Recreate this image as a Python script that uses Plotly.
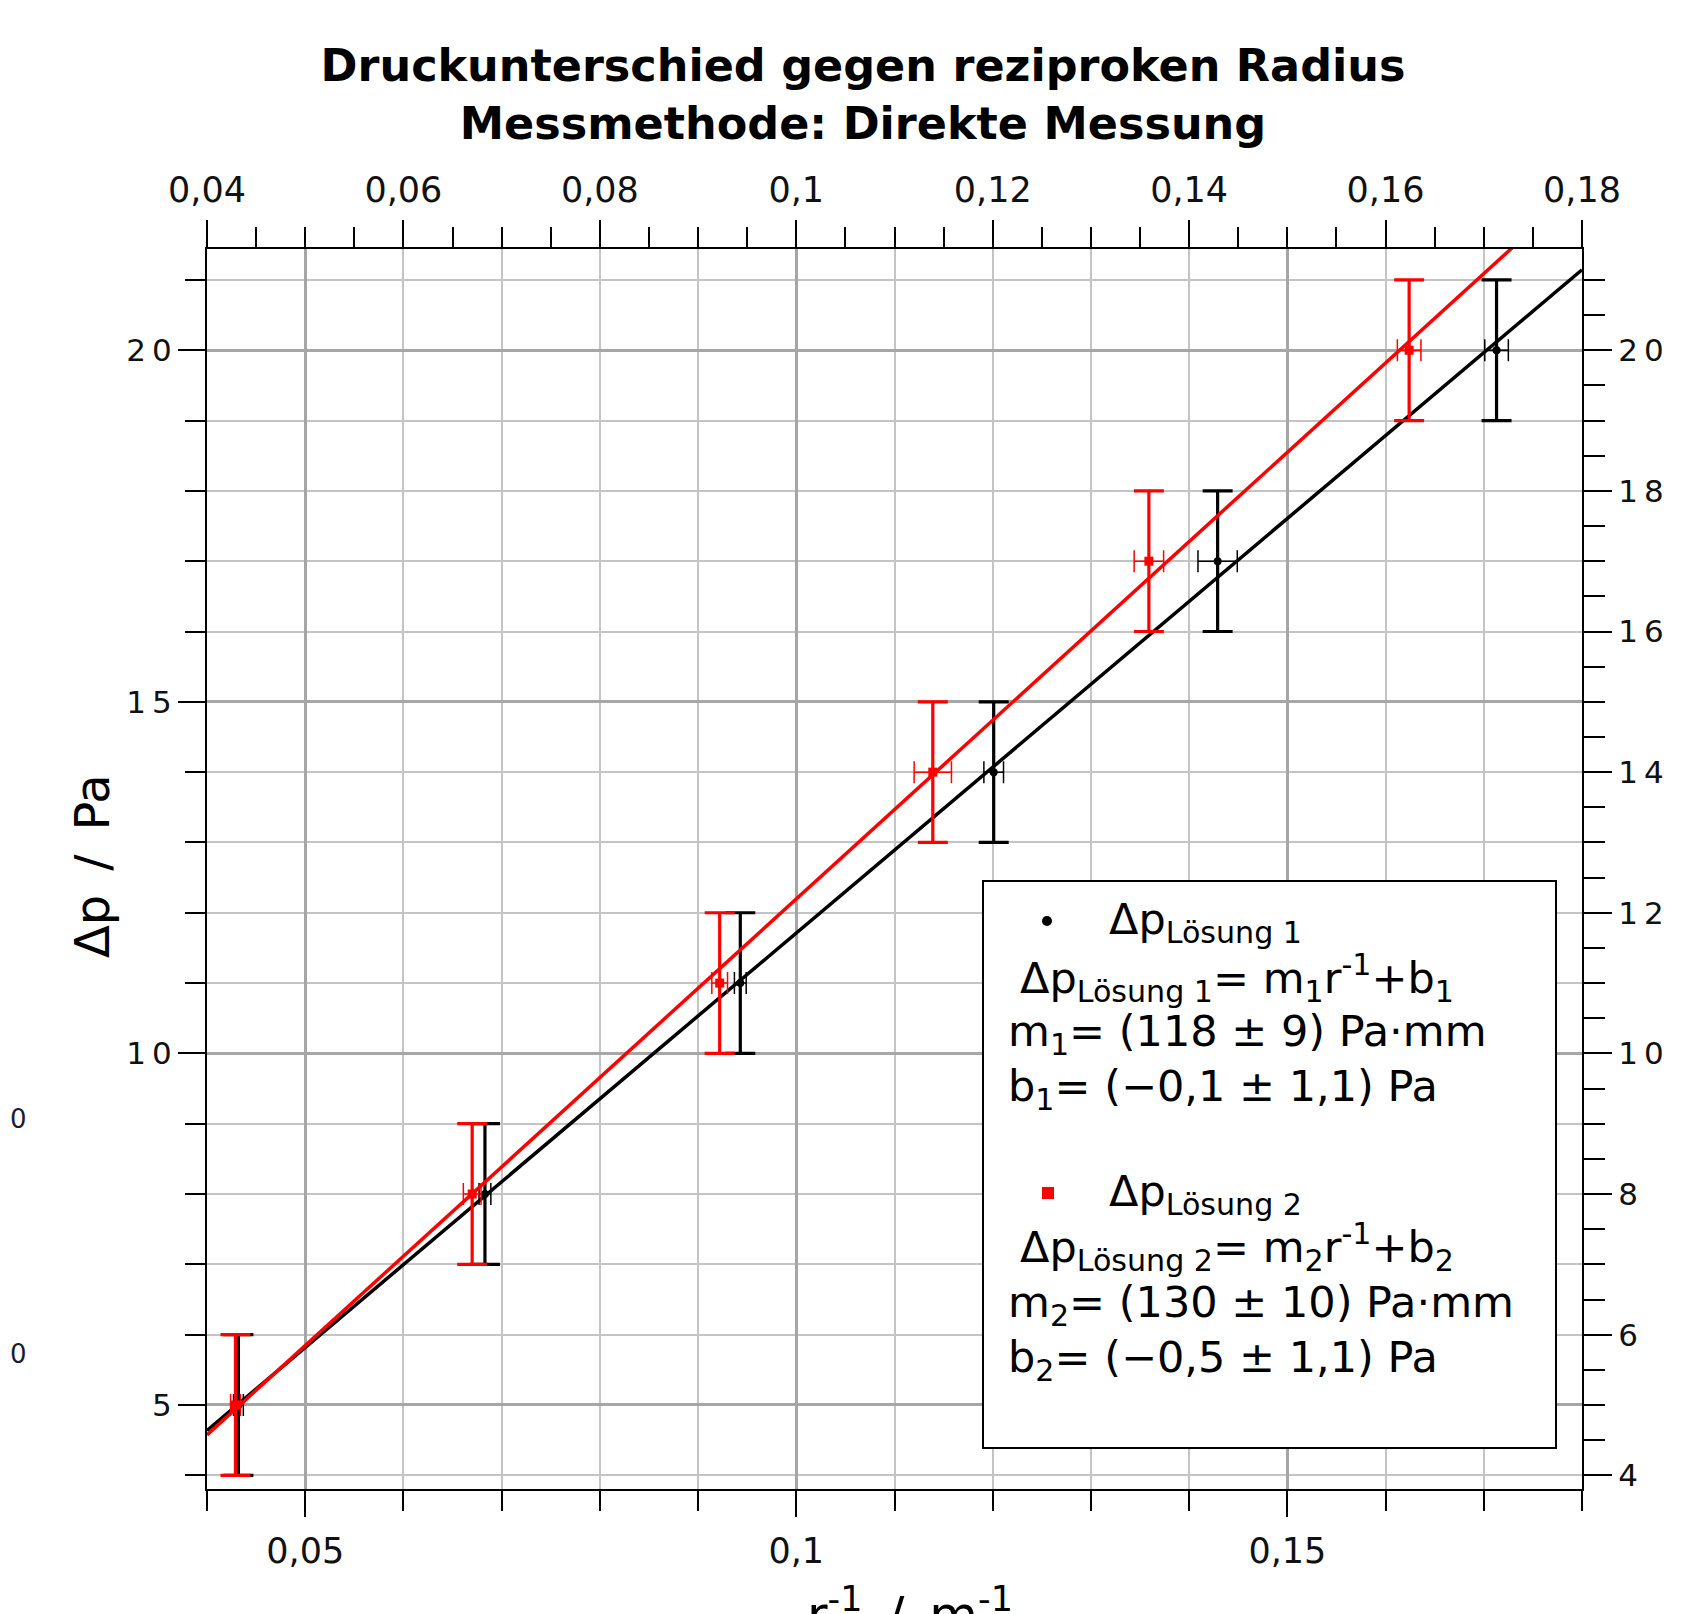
import numpy as np
import plotly.graph_objects as go

# ---------------- data ----------------
y_vals = [5, 8, 11, 14, 17, 20]
y_err = [1, 1, 1, 1, 1, 1]

x_loes1 = [0.0432, 0.0683, 0.0943, 0.1201, 0.1429, 0.1713]
xerr_loes1 = [0.0005, 0.0006, 0.0006, 0.0010, 0.0020, 0.0012]

x_loes2 = [0.0429, 0.0670, 0.0922, 0.1139, 0.1359, 0.1624]
xerr_loes2 = [0.0005, 0.0009, 0.0008, 0.0019, 0.0015, 0.0012]

x_range = [0.04, 0.18]
y_range = [3.805, 21.44]

TS = "\u2009"  # thin space, mimics the wide letter spacing of the original labels
bottom_tickvals = [0.05, 0.10, 0.15]
bottom_ticktext = ["0,05", "0,1", "0,15"]
top_tickvals = [0.04, 0.06, 0.08, 0.10, 0.12, 0.14, 0.16, 0.18]
top_ticktext = ["0,04", "0,06", "0,08", "0,1", "0,12", "0,14", "0,16", "0,18"]
left_tickvals = [5, 10, 15, 20]
left_ticktext = ["5", "1" + TS + "0", "1" + TS + "5", "2" + TS + "0"]
right_tickvals = [4, 6, 8, 10, 12, 14, 16, 18, 20]
right_ticktext = ["4", "6", "8", "1" + TS + "0", "1" + TS + "2", "1" + TS + "4",
                  "1" + TS + "6", "1" + TS + "8", "2" + TS + "0"]

legend_lines_1 = [
    "Δp<sub>Lösung 1</sub>",
    "Δp<sub>Lösung 1</sub>= m<sub>1</sub>r<sup>-1</sup>+b<sub>1</sub>",
    "m<sub>1</sub>= (118 ± 9) Pa·mm",
    "b<sub>1</sub>= (−0,1 ± 1,1) Pa",
]
legend_lines_2 = [
    "Δp<sub>Lösung 2</sub>",
    "Δp<sub>Lösung 2</sub>= m<sub>2</sub>r<sup>-1</sup>+b<sub>2</sub>",
    "m<sub>2</sub>= (130 ± 10) Pa·mm",
    "b<sub>2</sub>= (−0,5 ± 1,1) Pa",
]

# ---------------- layout geometry (page pixels) ----------------
OFF = 8  # default body margin of the html page
W, H = 1698 - OFF, 1614 - OFF
L, R, T, B = 207, 1582, 249, 1489          # plot area in page pixels
PW, PH = R - L, B - T

def px(xp):
    return (xp - L) / PW

def py(yp):
    return (B - yp) / PH

FONT = "DejaVu Sans"
RED = "#ff0000"
BLACK = "#000000"

# linear fits from the data
m1, b1 = np.polyfit(x_loes1, y_vals, 1)
m2, b2 = np.polyfit(x_loes2, y_vals, 1)
fit_x = np.array(x_range)

fig = go.Figure()

fig.add_trace(go.Scatter(x=fit_x, y=m1 * fit_x + b1, mode="lines",
                         line=dict(color=BLACK, width=3.5), showlegend=False, hoverinfo="skip"))
fig.add_trace(go.Scatter(
    x=x_loes1, y=y_vals, mode="markers",
    marker=dict(symbol="circle", size=8, color=BLACK),
    error_y=dict(type="data", array=y_err, color=BLACK, thickness=3.2, width=15),
    error_x=dict(type="data", array=xerr_loes1, color=BLACK, thickness=1.5, width=11),
    showlegend=False))
fig.add_trace(go.Scatter(x=fit_x, y=m2 * fit_x + b2, mode="lines",
                         line=dict(color=RED, width=3.5), showlegend=False, hoverinfo="skip"))
fig.add_trace(go.Scatter(
    x=x_loes2, y=y_vals, mode="markers",
    marker=dict(symbol="square", size=9, color=RED),
    error_y=dict(type="data", array=y_err, color=RED, thickness=3.2, width=15),
    error_x=dict(type="data", array=xerr_loes2, color=RED, thickness=1.5, width=11),
    showlegend=False))
# invisible trace to activate the top / right axes
fig.add_trace(go.Scatter(x=[None], y=[None], xaxis="x2", yaxis="y2",
                         showlegend=False, hoverinfo="skip"))

tickfont_x = dict(family=FONT, size=35, color="#111111")
tickfont_y = dict(family=FONT, size=31, color="#111111")

fig.update_layout(
    width=W, height=H,
    margin=dict(l=L - OFF, r=W - (R - OFF), t=T - OFF, b=H - (B - OFF), pad=0),
    paper_bgcolor="white", plot_bgcolor="white",
    font=dict(family=FONT, color=BLACK),
    title=dict(
        text="Druckunterschied gegen reziproken Radius<br>Messmethode: Direkte Messung",
        font=dict(family=FONT, size=44.5, color=BLACK, weight="bold"),
        x=(863 - OFF) / W, xanchor="center", xref="container",
        y=1 - 73 / H, yanchor="middle", yref="container",
    ),
    xaxis=dict(
        range=x_range, tickmode="array", tickvals=bottom_tickvals, ticktext=bottom_ticktext,
        ticks="outside", ticklen=26, tickwidth=2, tickcolor=BLACK, ticklabelstandoff=4,
        showline=True, linecolor=BLACK, linewidth=2,
        showgrid=True, gridcolor="#a6a6a6", gridwidth=3, zeroline=False,
        tickfont=tickfont_x,
        minor=dict(tickmode="linear", tick0=0, dtick=0.01, ticks="outside", ticklen=20,
                   tickwidth=2, tickcolor=BLACK, showgrid=True, gridcolor="#c4c4c4", gridwidth=2),
    ),
    xaxis2=dict(
        range=x_range, overlaying="x", side="top", anchor="y",
        tickmode="array", tickvals=top_tickvals, ticktext=top_ticktext,
        ticks="outside", ticklen=27, tickwidth=2, tickcolor=BLACK, ticklabelstandoff=4,
        showline=True, linecolor=BLACK, linewidth=2,
        showgrid=False, zeroline=False, tickfont=tickfont_x,
        minor=dict(tickmode="linear", tick0=0, dtick=0.005, ticks="outside", ticklen=20,
                   tickwidth=2, tickcolor=BLACK, showgrid=False),
    ),
    yaxis=dict(
        range=y_range, tickmode="array", tickvals=left_tickvals, ticktext=left_ticktext,
        ticks="outside", ticklen=27, tickwidth=2, tickcolor=BLACK,
        showline=True, linecolor=BLACK, linewidth=2,
        showgrid=True, gridcolor="#a6a6a6", gridwidth=3, zeroline=False,
        tickfont=tickfont_y,
        minor=dict(tickmode="linear", tick0=0, dtick=1, ticks="outside", ticklen=20,
                   tickwidth=2, tickcolor=BLACK, showgrid=True, gridcolor="#c4c4c4", gridwidth=2),
    ),
    yaxis2=dict(
        range=y_range, overlaying="y", side="right", anchor="x",
        tickmode="array", tickvals=right_tickvals, ticktext=right_ticktext,
        ticks="outside", ticklen=28, tickwidth=2, tickcolor=BLACK,
        showline=True, linecolor=BLACK, linewidth=2,
        showgrid=False, zeroline=False, tickfont=tickfont_y,
        minor=dict(tickmode="linear", tick0=0, dtick=0.5, ticks="outside", ticklen=21,
                   tickwidth=2, tickcolor=BLACK, showgrid=False),
    ),
)

shapes = [
    dict(type="rect", xref="paper", yref="paper",
         x0=px(983), x1=px(1556), y0=py(1448), y1=py(881),
         fillcolor="white", line=dict(color=BLACK, width=2), layer="above"),
    dict(type="circle", xref="paper", yref="paper",
         x0=px(1042), x1=px(1052), y0=py(926), y1=py(916),
         fillcolor=BLACK, line=dict(width=0), layer="above"),
    dict(type="rect", xref="paper", yref="paper",
         x0=px(1042), x1=px(1054), y0=py(1199), y1=py(1187),
         fillcolor=RED, line=dict(width=0), layer="above"),
]
fig.update_layout(shapes=shapes)

annotations = []
leg_x = [1107, 1018, 1006, 1006]
leg_y1 = [922, 978, 1034, 1089]
leg_y2 = [1194, 1247, 1305, 1360]
for lines, ys in ((legend_lines_1, leg_y1), (legend_lines_2, leg_y2)):
    for text, xl, yc in zip(lines, leg_x, ys):
        annotations.append(dict(
            text=text, xref="paper", yref="paper", x=px(xl), y=py(yc),
            xanchor="left", yanchor="middle", showarrow=False,
            font=dict(family=FONT, size=43, color=BLACK)))

# axis titles
annotations.append(dict(
    text="Δp\u2002/\u2002Pa", xref="paper", yref="paper", x=px(92), y=py(866),
    xanchor="center", yanchor="middle", textangle=-90, showarrow=False,
    font=dict(family=FONT, size=48, color=BLACK)))
annotations.append(dict(
    text="r<sup>-1</sup>\u2002/\u2002m<sup>-1</sup>", xref="paper", yref="paper",
    x=px(910), y=py(1577),
    xanchor="center", yanchor="top", showarrow=False,
    font=dict(family=FONT, size=50, color=BLACK)))
# stray digits at the left edge of the picture
for yy in (1119, 1354):
    annotations.append(dict(
        text="0", xref="paper", yref="paper", x=px(OFF), y=py(yy),
        xanchor="left", yanchor="middle", showarrow=False,
        font=dict(family=FONT, size=26, color="#1a1a33")))
fig.update_layout(annotations=annotations)

fig.write_html("out.html")
